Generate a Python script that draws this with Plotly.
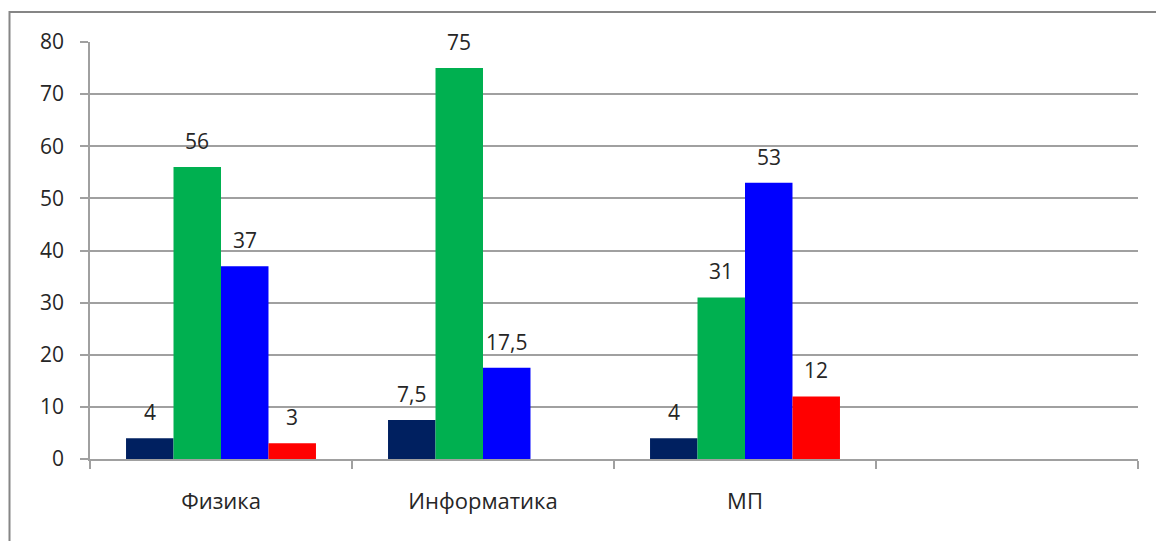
import plotly.graph_objects as go

categories = ["Физика", "Информатика", "МП", " "]
series_navy = [4, 7.5, 4, None]
series_green = [56, 75, 31, None]
series_blue = [37, 17.5, 53, None]
series_red = [3, None, 12, None]
label_text_navy = ["4", "7,5", "4", None]
label_text_green = ["56", "75", "31", None]
label_text_blue = ["37", "17,5", "53", None]
label_text_red = ["3", None, "12", None]
y_ticks = [0, 10, 20, 30, 40, 50, 60, 70, 80]

colors = ["#002060", "#00B050", "#0000FF", "#FF0000"]
all_series = [series_navy, series_green, series_blue, series_red]
all_labels = [label_text_navy, label_text_green, label_text_blue, label_text_red]

W, H = 1156, 541
ML, MR, MT, MB = 90, 18, 42, 82
plot_w = W - ML - MR
plot_h = H - MT - MB
bargap = 0.275
font = dict(family="Open Sans, Lato, sans-serif", size=21, color="#262626")
xfont = dict(family="Open Sans, Lato, sans-serif", size=22, color="#262626")

fig = go.Figure()
for vals, col in zip(all_series, colors):
    fig.add_trace(go.Bar(x=categories, y=vals, marker=dict(color=col, line=dict(width=0)),
                         showlegend=False, hoverinfo="skip"))

# data labels
cat_w = plot_w / len(categories)
bar_w = cat_w * (1 - bargap) / len(all_series)
annotations = []
for si, (vals, labs) in enumerate(zip(all_series, all_labels)):
    offset = (si - (len(all_series) - 1) / 2) * bar_w
    for c, v, t in zip(categories, vals, labs):
        if v is None or t is None:
            continue
        annotations.append(dict(x=c, y=v, xref="x", yref="y", text=t, showarrow=False,
                                xshift=offset, yshift=26, yanchor="middle", font=font))

fig.update_layout(
    width=W, height=H,
    margin=dict(l=ML, r=MR, t=MT, b=MB),
    paper_bgcolor="white", plot_bgcolor="white",
    barmode="group", bargap=bargap, bargroupgap=0,
    annotations=annotations,
    font=font,
    shapes=[dict(type="rect", xref="paper", yref="paper",
                 x0=(9.5 - ML) / plot_w, x1=1.2,
                 y0=-0.5, y1=(H - MB - 12) / plot_h,
                 line=dict(color="#868686", width=2), layer="below")],
)
fig.update_xaxes(type="category", range=[-0.5, 3.5], showline=True, linecolor="#A0A0A0", linewidth=1.5,
                 ticks="outside", tickson="boundaries", ticklen=8, tickcolor="#A0A0A0", tickwidth=1.5,
                 showgrid=False, ticklabelstandoff=22, tickfont=xfont)
fig.update_yaxes(range=[0, 80], tickvals=y_ticks, showline=True, linecolor="#A0A0A0", linewidth=1.5,
                 ticks="outside", ticklen=8, tickcolor="#A0A0A0", tickwidth=1.5,
                 showgrid=True, gridcolor="#A0A0A0", gridwidth=1.5, zeroline=False,
                 ticklabelstandoff=12, tickfont=font)

fig.write_html("out.html", config={"displayModeBar": False},
               post_script="document.body.style.margin='0';")
